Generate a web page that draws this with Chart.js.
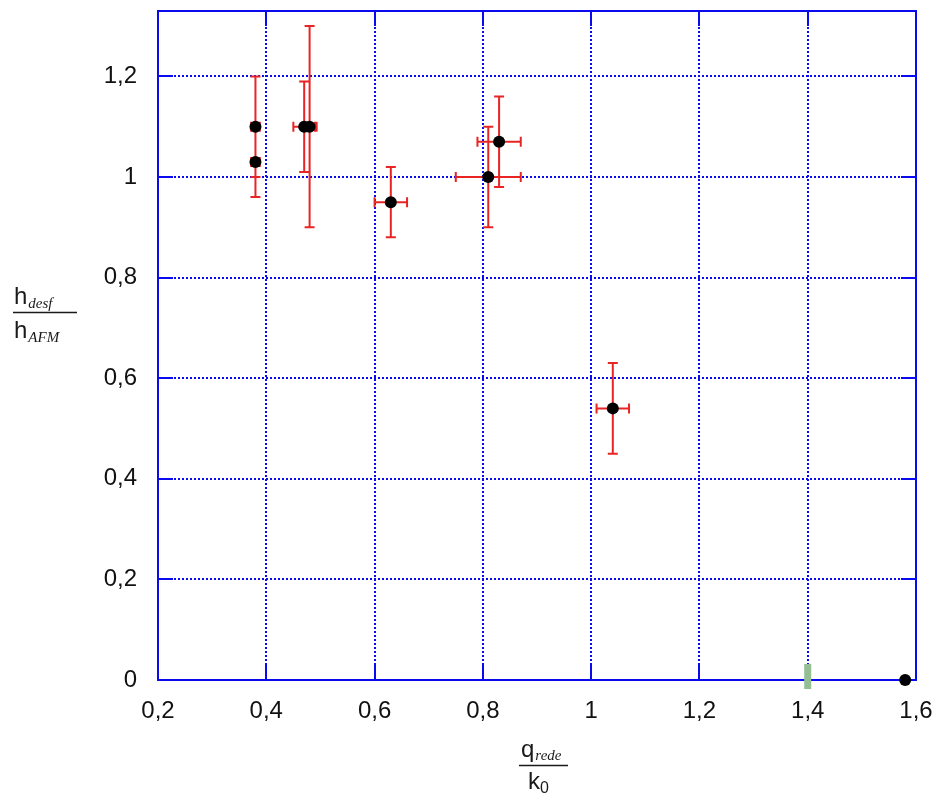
<!DOCTYPE html>
<html>
<head>
<meta charset="utf-8">
<script src="https://cdn.jsdelivr.net/npm/chart.js@4.4.1/dist/chart.umd.min.js"></script>
<style>
  html, body { margin: 0; padding: 0; background: #ffffff; }
  #wrap { width: 936px; height: 799px; }
</style>
</head>
<body>
<div id="wrap"><canvas id="c" width="936" height="799"></canvas></div>
<script>
// ---- data ----
const xVals = [0.38, 0.38, 0.47, 0.48, 0.63, 0.81, 0.83, 1.04, 1.58];
const yVals = [1.10, 1.03, 1.10, 1.10, 0.95, 1.00, 1.07, 0.54, 0.00];
const xErr  = [0.008, 0.008, 0.02, 0.013, 0.03, 0.06, 0.04, 0.03, 0];
const yErr  = [0.10, 0.07, 0.09, 0.20, 0.07, 0.10, 0.09, 0.09, 0];
const markX = [1.4, 1.4];
const markY = [-0.018, 0.032];
const xTicks = [0.2, 0.4, 0.6, 0.8, 1.0, 1.2, 1.4, 1.6];
const yTicks = [0, 0.2, 0.4, 0.6, 0.8, 1.0, 1.2];
const xMin = 0.2, xMax = 1.6, yMin = 0, yMax = 1.33;

const fmt = v => String(Math.round(v * 10) / 10).replace('.', ',');

const BLUE = '#0a0aee';
const RED = 'rgb(232,36,36)';

const pointData = xVals.map((x, i) => ({ x: x, y: yVals[i] }));
const markData = markX.map((x, i) => ({ x: x, y: markY[i] }));

function zeroPad(s) { s.paddingTop = 0; s.paddingBottom = 0; s.paddingLeft = 0; s.paddingRight = 0; }

const framePlugin = {
  id: 'frame',
  beforeDatasetsDraw(chart) {
    const ctx = chart.ctx, a = chart.chartArea;
    const xs = chart.scales.x, ys = chart.scales.y;
    ctx.save();
    ctx.strokeStyle = BLUE;
    ctx.lineWidth = 2;
    ctx.setLineDash([]);
    ctx.strokeRect(a.left, a.top, a.right - a.left, a.bottom - a.top);
    const tl = 15;
    ctx.beginPath();
    xTicks.forEach(v => {
      const px = Math.round(xs.getPixelForValue(v));
      ctx.moveTo(px, a.bottom); ctx.lineTo(px, a.bottom - tl);
      ctx.moveTo(px, a.top); ctx.lineTo(px, a.top + tl);
    });
    yTicks.forEach(v => {
      const py = Math.round(ys.getPixelForValue(v));
      ctx.moveTo(a.left, py); ctx.lineTo(a.left + tl, py);
      ctx.moveTo(a.right, py); ctx.lineTo(a.right - tl, py);
    });
    ctx.stroke();
    ctx.strokeStyle = RED;
    ctx.lineWidth = 2;
    const cap = 5;
    ctx.beginPath();
    xVals.forEach((x, i) => {
      const px = xs.getPixelForValue(x), py = ys.getPixelForValue(yVals[i]);
      if (yErr[i] > 0) {
        const y1 = ys.getPixelForValue(yVals[i] + yErr[i]);
        const y2 = ys.getPixelForValue(yVals[i] - yErr[i]);
        ctx.moveTo(px, y1); ctx.lineTo(px, y2);
        ctx.moveTo(px - cap, y1); ctx.lineTo(px + cap, y1);
        ctx.moveTo(px - cap, y2); ctx.lineTo(px + cap, y2);
      }
      if (xErr[i] > 0) {
        const x1 = xs.getPixelForValue(x - xErr[i]);
        const x2 = xs.getPixelForValue(x + xErr[i]);
        ctx.moveTo(x1, py); ctx.lineTo(x2, py);
        ctx.moveTo(x1, py - cap); ctx.lineTo(x1, py + cap);
        ctx.moveTo(x2, py - cap); ctx.lineTo(x2, py + cap);
      }
    });
    ctx.stroke();
    ctx.restore();
  },
  afterDraw(chart) {
    const ctx = chart.ctx;
    ctx.save();
    ctx.fillStyle = '#1a1a1a';
    ctx.strokeStyle = '#1a1a1a';
    ctx.textBaseline = 'alphabetic';
    ctx.textAlign = 'left';
    ctx.font = '24px "Liberation Sans", Arial, sans-serif';
    ctx.fillText('h', 14, 304);
    let w = ctx.measureText('h').width;
    ctx.font = 'italic 15px "Liberation Serif", "Times New Roman", serif';
    ctx.fillText('desf', 14 + w + 1, 308);
    ctx.font = '24px "Liberation Sans", Arial, sans-serif';
    ctx.fillText('h', 14, 338);
    ctx.font = 'italic 15px "Liberation Serif", "Times New Roman", serif';
    ctx.fillText('AFM', 14 + w + 1, 342);
    ctx.lineWidth = 1.6;
    ctx.beginPath(); ctx.moveTo(13, 312.5); ctx.lineTo(77, 312.5); ctx.stroke();
    ctx.font = '24px "Liberation Sans", Arial, sans-serif';
    ctx.fillText('q', 521, 757);
    let wq = ctx.measureText('q').width;
    ctx.font = 'italic 15px "Liberation Serif", "Times New Roman", serif';
    ctx.fillText('rede', 521 + wq + 1, 760);
    ctx.font = '24px "Liberation Sans", Arial, sans-serif';
    ctx.fillText('k', 528, 789);
    let wk = ctx.measureText('k').width;
    ctx.font = '16px "Liberation Sans", Arial, sans-serif';
    ctx.fillText('0', 528 + wk, 793);
    ctx.beginPath(); ctx.moveTo(519, 765.5); ctx.lineTo(568, 765.5); ctx.stroke();
    ctx.restore();
  }
};

new Chart(document.getElementById('c'), {
  type: 'scatter',
  data: {
    datasets: [
      {
        label: 'mark',
        data: markData,
        showLine: true,
        borderColor: '#93bf93',
        borderWidth: 7,
        pointRadius: 0,
        borderCapStyle: 'butt',
        clip: false,
        order: 2
      },
      {
        label: 'h',
        data: pointData,
        backgroundColor: '#000000',
        borderColor: '#000000',
        pointRadius: 6,
        pointBorderWidth: 0,
        clip: false,
        order: 1
      }
    ]
  },
  options: {
    responsive: false,
    animation: false,
    devicePixelRatio: 1,
    layout: { padding: { top: 11, right: 20, left: 0, bottom: 0 } },
    plugins: { legend: { display: false }, tooltip: { enabled: false } },
    scales: {
      x: {
        type: 'linear',
        min: xMin, max: xMax,
        afterFit(s) { s.height = 119; zeroPad(s); },
        afterBuildTicks(s) { s.ticks = xTicks.map(v => ({ value: v })); },
        grid: { color: BLUE, lineWidth: 2, drawTicks: false },
        border: { display: false, dash: [2, 2] },
        ticks: {
          padding: 17,
          color: '#111111',
          font: { family: '"Liberation Sans", Arial, sans-serif', size: 24 },
          callback: v => fmt(v),
          maxRotation: 0, autoSkip: false
        }
      },
      y: {
        type: 'linear',
        min: yMin, max: yMax,
        afterFit(s) { s.width = 158; zeroPad(s); },
        afterBuildTicks(s) { s.ticks = yTicks.map(v => ({ value: v })); },
        grid: { color: BLUE, lineWidth: 2, drawTicks: false },
        border: { display: false, dash: [2, 2] },
        ticks: {
          padding: 21,
          color: '#111111',
          font: { family: '"Liberation Sans", Arial, sans-serif', size: 24 },
          callback: v => fmt(v),
          autoSkip: false
        }
      }
    }
  },
  plugins: [framePlugin]
});
</script>
</body>
</html>
